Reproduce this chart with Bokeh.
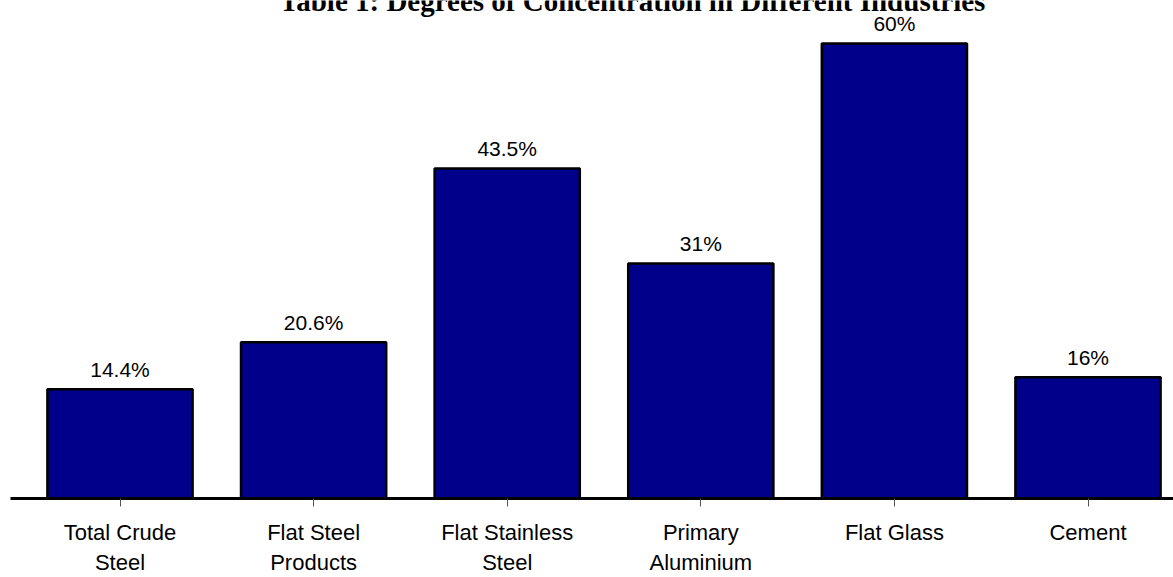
from bokeh.plotting import figure
from bokeh.models import Range1d, FixedTicker, ColumnDataSource
from bokeh.core.properties import value
from bokeh.embed import file_html
from bokeh.resources import INLINE

title_text = "Table 1: Degrees of Concentration in Different Industries"
categories = ["Total Crude\nSteel", "Flat Steel\nProducts", "Flat Stainless\nSteel",
              "Primary\nAluminium", "Flat Glass", "Cement"]
values = [14.4, 20.6, 43.5, 31, 60, 16]
value_labels = ["14.4%", "20.6%", "43.5%", "31%", "60%", "16%"]

xs = list(range(len(categories)))
src = ColumnDataSource(dict(x=xs, top=values, lab=value_labels))

p = figure(width=1173, height=577, output_backend="svg", toolbar_location=None,
           x_range=Range1d(-0.5656, 5.4416), y_range=Range1d(0, 65.67),
           min_border_left=10, min_border_right=0, min_border_top=0, min_border_bottom=79)
p.outline_line_color = None
p.xgrid.visible = False
p.ygrid.visible = False
p.yaxis.visible = False
p.background_fill_color = "white"
p.border_fill_color = "white"

p.vbar(x="x", top="top", bottom=0, width=0.75, source=src,
       fill_color="#00008B", line_color="black", line_width=2.5)

p.text(x="x", y="top", text="lab", source=src, text_align="center",
       text_baseline="alphabetic", y_offset=-20, text_font=value("Liberation Sans"),
       text_font_size="21px", text_color="black")

p.text(x=[2.647], y=[65.67], text=[title_text], text_align="center",
       text_baseline="alphabetic", text_font=value("Liberation Serif"),
       text_font_style="bold", text_font_size="29px", text_color="black")

ax = p.xaxis[0]
ax.ticker = FixedTicker(ticks=xs)
ax.major_label_overrides = {i: c for i, c in enumerate(categories)}
ax.minor_tick_line_color = None
ax.major_tick_in = 0
ax.major_tick_out = 8
ax.major_tick_line_color = "#555555"
ax.major_tick_line_width = 1
ax.axis_line_width = 3
ax.axis_line_color = "black"
ax.major_label_text_font = "Liberation Sans"
ax.major_label_text_font_size = "22px"
ax.major_label_text_color = "black"
ax.major_label_standoff = 13

open("out.html", "w").write(file_html(p, INLINE))
